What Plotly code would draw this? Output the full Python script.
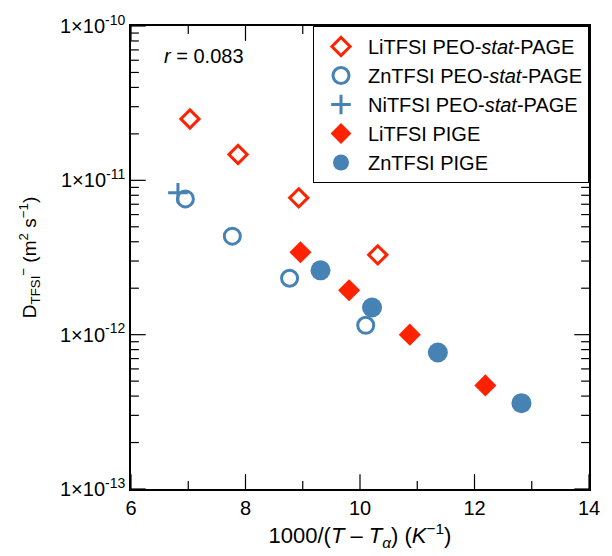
import plotly.graph_objects as go

RED = "#ff2200"
BLUE = "#4682b4"

# data
li_peo_x = [7.03, 7.87, 8.93, 10.31]
li_peo_y = [2.50e-11, 1.47e-11, 7.7e-12, 3.29e-12]
zn_peo_x = [6.95, 7.77, 8.77, 10.10]
zn_peo_y = [7.58e-12, 4.35e-12, 2.32e-12, 1.15e-12]
ni_peo_x = [6.82]
ni_peo_y = [8.3e-12]
li_pige_x = [8.96, 9.81, 10.87, 12.19]
li_pige_y = [3.42e-12, 1.94e-12, 1.0e-12, 4.69e-13]
zn_pige_x = [9.31, 10.21, 11.36, 12.82]
zn_pige_y = [2.61e-12, 1.50e-12, 7.67e-13, 3.6e-13]

ytick_vals = [1e-13, 1e-12, 1e-11, 1e-10]
ytick_text = ["1×10<sup>-13</sup>", "1×10<sup>-12</sup>", "1×10<sup>-11</sup>", "1×10<sup>-10</sup>"]
xtick_vals = [6, 8, 10, 12, 14]
xminor_vals = [7, 9, 11, 13]
yminor_vals = [m * 10.0 ** e for e in (-13, -12, -11) for m in range(2, 10)]

X_RANGE = [6, 14]
Y_RANGE_LOG = [-13, -10]

FONT = "Liberation Sans, Arial, sans-serif"
W, H = 612, 556
ML, MR, MT, MB = 131, 14, 22, 66
PW = W - ML - MR
PH = H - MT - MB
MAJOR_LEN = 15
MINOR_LEN = 8

fig = go.Figure()
fig.add_trace(go.Scatter(x=li_peo_x, y=li_peo_y, mode="markers", name="LiTFSI PEO-<i>stat</i>-PAGE",
                         marker=dict(symbol="diamond-open", size=14, color=RED, line=dict(width=3, color=RED))))
fig.add_trace(go.Scatter(x=zn_peo_x, y=zn_peo_y, mode="markers", name="ZnTFSI PEO-<i>stat</i>-PAGE",
                         marker=dict(symbol="circle-open", size=16, color=BLUE, line=dict(width=3, color=BLUE))))
fig.add_trace(go.Scatter(x=ni_peo_x, y=ni_peo_y, mode="markers", name="NiTFSI PEO-<i>stat</i>-PAGE",
                         marker=dict(symbol="cross-thin-open", size=14, color=BLUE, line=dict(width=3, color=BLUE))))
fig.add_trace(go.Scatter(x=li_pige_x, y=li_pige_y, mode="markers", name="LiTFSI PIGE",
                         marker=dict(symbol="diamond", size=17, color=RED, line=dict(width=0))))
fig.add_trace(go.Scatter(x=zn_pige_x, y=zn_pige_y, mode="markers", name="ZnTFSI PIGE",
                         marker=dict(symbol="circle", size=20, color=BLUE, line=dict(width=0))))

# tick marks (inside, mirrored) drawn as line traces through the axes' scales
x_per_px = (X_RANGE[1] - X_RANGE[0]) / PW
ylog_per_px = (Y_RANGE_LOG[1] - Y_RANGE_LOG[0]) / PH
ybot, ytop = 10.0 ** Y_RANGE_LOG[0], 10.0 ** Y_RANGE_LOG[1]
tx, ty = [], []
for vals, ln in ((xtick_vals, MAJOR_LEN), (xminor_vals, MINOR_LEN)):
    d = 10.0 ** (ln * ylog_per_px)
    for v in vals:
        tx += [v, v, None, v, v, None]
        ty += [ybot, ybot * d, None, ytop, ytop / d, None]
for vals, ln in ((ytick_vals, MAJOR_LEN), (yminor_vals, MINOR_LEN)):
    d = ln * x_per_px
    for v in vals:
        tx += [X_RANGE[0], X_RANGE[0] + d, None, X_RANGE[1], X_RANGE[1] - d, None]
        ty += [v, v, None, v, v, None]
fig.add_trace(go.Scatter(x=tx, y=ty, mode="lines", line=dict(color="black", width=1.2),
                         showlegend=False, hoverinfo="skip", cliponaxis=False, connectgaps=False))

fig.update_layout(
    width=W, height=H,
    margin=dict(l=ML, r=MR, t=MT, b=MB),
    paper_bgcolor="white", plot_bgcolor="white",
    font=dict(family=FONT, size=20, color="black"),
    showlegend=True,
    legend=dict(x=1, y=1, xanchor="right", yanchor="top", bordercolor="black", borderwidth=1,
                bgcolor="white", font=dict(size=20), tracegroupgap=0, itemsizing="trace", itemwidth=44),
)
fig.update_xaxes(range=X_RANGE, tickmode="array", tickvals=xtick_vals, ticks="",
                 showline=True, linecolor="black", linewidth=1.5, mirror=True,
                 showgrid=False, zeroline=False, tickfont=dict(size=20, color="black"),
                 title_text="1000/(<i>T</i> – <i>T</i><sub><i>α</i></sub>) (<i>K</i><sup>−1</sup>)",
                 title_font=dict(size=22), title_standoff=10)
fig.update_yaxes(type="log", range=Y_RANGE_LOG, tickmode="array", tickvals=ytick_vals, ticktext=ytick_text,
                 ticks="", showline=True, linecolor="black", linewidth=1.5, mirror=True,
                 showgrid=False, zeroline=False, tickfont=dict(size=20, color="black"),
                 title_text="D<sub>TFSI</sub><sup>−</sup> (m<sup>2</sup> s<sup>−1</sup>)",
                 title_font=dict(size=19), title_standoff=18)

fig.add_annotation(text="<i>r</i> = 0.083", x=(163 - ML) / PW, y=1 - (52 - MT) / PH,
                   xref="paper", yref="paper", showarrow=False, xanchor="left", yanchor="middle",
                   font=dict(size=20))

fig.write_html("out.html")
